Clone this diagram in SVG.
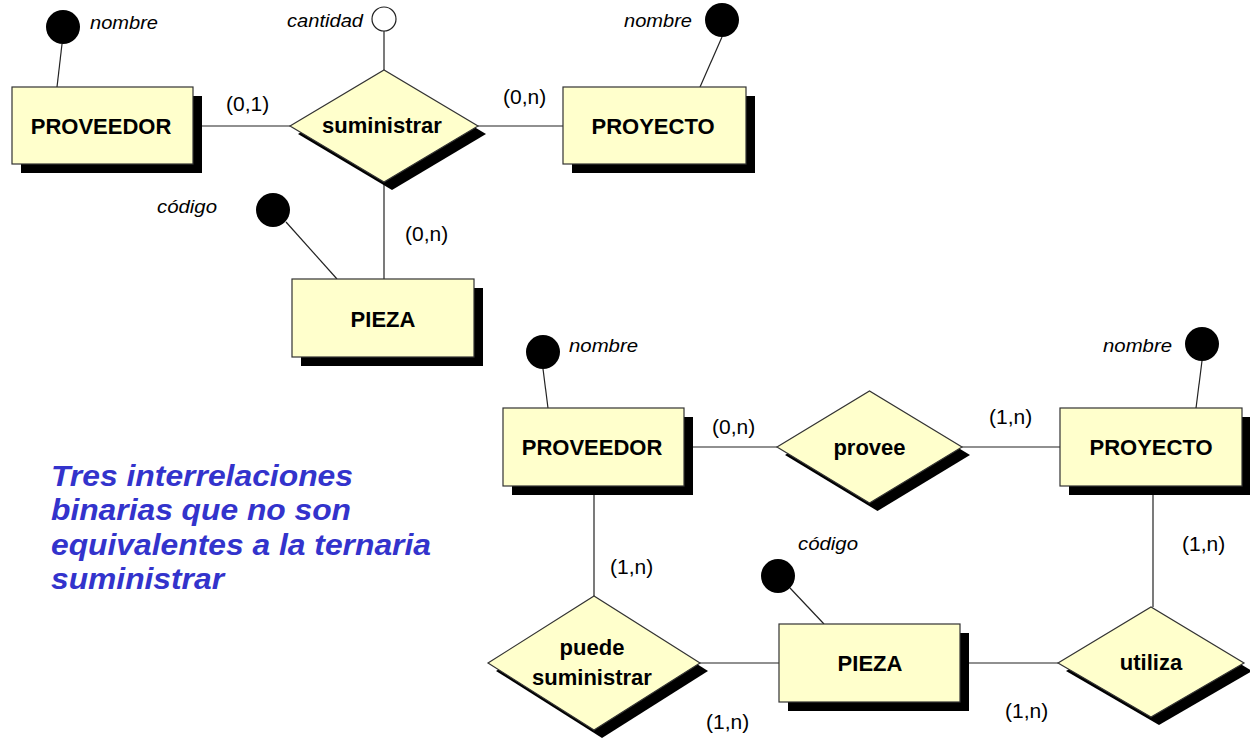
<svg xmlns="http://www.w3.org/2000/svg" width="1250" height="738" viewBox="0 0 1250 738">
<style>
.ent{fill:#FFFFCC;stroke:#333;stroke-width:1.2}
.sh{fill:#000}
.rel{fill:#FFFFCC;stroke:#333;stroke-width:1.2}
.ln{stroke:#222;stroke-width:1.2;fill:none}
.nm{font-family:"Liberation Sans",Arial,sans-serif;font-weight:bold;font-size:22px;fill:#000;text-anchor:middle}
.at{font-family:"Liberation Sans",Arial,sans-serif;font-style:italic;font-size:18px;fill:#000}
.card{font-family:"Liberation Sans",Arial,sans-serif;font-size:21px;fill:#000}
.dot{fill:#000}
.odot{fill:#fff;stroke:#222;stroke-width:1.2}
.note{font-family:"Liberation Sans",Arial,sans-serif;font-weight:bold;font-style:italic;font-size:30px;fill:#3333CC}
</style>
<g id="connectors">
<line class="ln" x1="62" y1="44" x2="57" y2="87"/>
<line class="ln" x1="384" y1="31" x2="384" y2="70"/>
<line class="ln" x1="722" y1="37" x2="700" y2="87"/>
<line class="ln" x1="286" y1="222" x2="337" y2="279"/>
<line class="ln" x1="193" y1="126" x2="290" y2="126"/>
<line class="ln" x1="478" y1="126" x2="563" y2="126"/>
<line class="ln" x1="384" y1="182" x2="384" y2="279"/>
<line class="ln" x1="543" y1="369" x2="548" y2="408"/>
<line class="ln" x1="1202" y1="361" x2="1196" y2="408"/>
<line class="ln" x1="790" y1="588" x2="824" y2="624"/>
<line class="ln" x1="684" y1="447" x2="777" y2="447"/>
<line class="ln" x1="962" y1="447" x2="1060" y2="447"/>
<line class="ln" x1="594" y1="486" x2="594" y2="596"/>
<line class="ln" x1="1153" y1="486" x2="1153" y2="607"/>
<line class="ln" x1="699" y1="663" x2="779" y2="663"/>
<line class="ln" x1="960" y1="663" x2="1058" y2="663"/>
</g>
<g id="attr-nombre-prov1"><circle class="dot" cx="63" cy="27" r="17"/><text class="at" x="90" y="29" textLength="68" lengthAdjust="spacingAndGlyphs">nombre</text></g>
<g id="attr-cantidad"><circle class="odot" cx="384" cy="19" r="12"/><text class="at" x="287" y="27" textLength="76" lengthAdjust="spacingAndGlyphs">cantidad</text></g>
<g id="attr-nombre-proy1"><circle class="dot" cx="722" cy="20" r="17"/><text class="at" x="624" y="27" textLength="68" lengthAdjust="spacingAndGlyphs">nombre</text></g>
<g id="attr-codigo1"><circle class="dot" cx="273" cy="210" r="17"/><text class="at" x="157" y="213" textLength="60" lengthAdjust="spacingAndGlyphs">código</text></g>
<g id="attr-nombre-prov2"><circle class="dot" cx="543" cy="352" r="17"/><text class="at" x="569" y="352" textLength="69" lengthAdjust="spacingAndGlyphs">nombre</text></g>
<g id="attr-nombre-proy2"><circle class="dot" cx="1202" cy="344" r="17"/><text class="at" x="1103" y="352" textLength="69" lengthAdjust="spacingAndGlyphs">nombre</text></g>
<g id="attr-codigo2"><circle class="dot" cx="778" cy="576" r="17"/><text class="at" x="798" y="550" textLength="60" lengthAdjust="spacingAndGlyphs">código</text></g>
<g id="proveedor1"><rect class="sh" x="21" y="96" width="181" height="77"/><rect class="ent" x="12" y="87" width="181" height="77"/><text class="nm" x="101" y="134">PROVEEDOR</text></g>
<g id="suministrar"><polygon class="sh" points="298,134 392,78 486,134 392,190"/><polygon class="rel" points="290,126 384,70 478,126 384,182"/><text class="nm" x="382" y="133">suministrar</text></g>
<g id="proyecto1"><rect class="sh" x="572" y="96" width="183" height="77"/><rect class="ent" x="563" y="87" width="183" height="77"/><text class="nm" x="653" y="134">PROYECTO</text></g>
<g id="pieza1"><rect class="sh" x="301" y="288" width="182" height="78"/><rect class="ent" x="292" y="279" width="182" height="78"/><text class="nm" x="383" y="327">PIEZA</text></g>
<g id="proveedor2"><rect class="sh" x="512" y="417" width="181" height="78"/><rect class="ent" x="503" y="408" width="181" height="78"/><text class="nm" x="592" y="455">PROVEEDOR</text></g>
<g id="provee"><polygon class="sh" points="785,455 877.5,399 970,455 877.5,511"/><polygon class="rel" points="777,447 869.5,391 962,447 869.5,503"/><text class="nm" x="869.5" y="455">provee</text></g>
<g id="proyecto2"><rect class="sh" x="1069" y="417" width="182" height="78"/><rect class="ent" x="1060" y="408" width="182" height="78"/><text class="nm" x="1151" y="455">PROYECTO</text></g>
<g id="puede-suministrar"><polygon class="sh" points="496,671 602,604 708,671 602,738"/><polygon class="rel" points="488,663 594,596 700,663 594,730"/><text class="nm" x="592" y="655">puede</text><text class="nm" x="592" y="685">suministrar</text></g>
<g id="pieza2"><rect class="sh" x="788" y="633" width="181" height="78"/><rect class="ent" x="779" y="624" width="181" height="78"/><text class="nm" x="870" y="671">PIEZA</text></g>
<g id="utiliza"><polygon class="sh" points="1066,671 1159,615 1252,671 1159,725"/><polygon class="rel" points="1058,663 1151,607 1244,663 1151,717"/><text class="nm" x="1151" y="670">utiliza</text></g>
<g id="cardinalities">
<text class="card" x="226" y="111">(0,1)</text>
<text class="card" x="503" y="104">(0,n)</text>
<text class="card" x="405" y="241">(0,n)</text>
<text class="card" x="712" y="434">(0,n)</text>
<text class="card" x="989" y="424">(1,n)</text>
<text class="card" x="610" y="574">(1,n)</text>
<text class="card" x="1182" y="551">(1,n)</text>
<text class="card" x="706" y="729">(1,n)</text>
<text class="card" x="1005" y="718">(1,n)</text>
</g>
<g id="note">
<text class="note" x="51" y="486" textLength="302" lengthAdjust="spacingAndGlyphs">Tres interrelaciones</text>
<text class="note" x="51" y="520" textLength="300" lengthAdjust="spacingAndGlyphs">binarias que no son</text>
<text class="note" x="51" y="555" textLength="380" lengthAdjust="spacingAndGlyphs">equivalentes a la ternaria</text>
<text class="note" x="51" y="589" textLength="173" lengthAdjust="spacingAndGlyphs">suministrar</text>
</g>
</svg>
